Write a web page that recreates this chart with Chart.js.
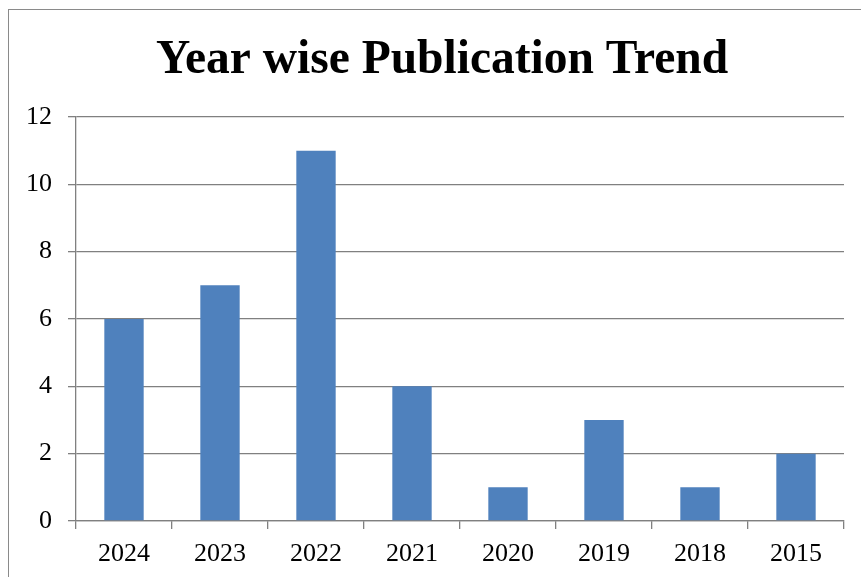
<!DOCTYPE html>
<html>
<head>
<meta charset="utf-8">
<script src="https://cdn.jsdelivr.net/npm/chart.js@4.4.1/dist/chart.umd.min.js"></script>
<style>
  html, body { margin: 0; padding: 0; background: #fff; }
  #wrap { position: relative; width: 861px; height: 577px; overflow: hidden; }
  #frame { position: absolute; left: 8px; top: 9px; width: 900px; height: 600px;
           border-left: 1.5px solid #8a8a8a; border-top: 1.5px solid #8a8a8a; }
  canvas { position: absolute; left: 0; top: 0; }
</style>
</head>
<body>
<div id="wrap">
  <div id="frame"></div>
  <canvas id="c" width="861" height="577"></canvas>
</div>
<script>
const chartTitle = "Year wise Publication Trend";
const years = ["2024", "2023", "2022", "2021", "2020", "2019", "2018", "2015"];
const publications = [6, 7, 11, 4, 1, 3, 1, 2];
const yTicks = [0, 2, 4, 6, 8, 10, 12];

const gridColor = "#808080";
const serif = "'Liberation Serif', 'Times New Roman', serif";

new Chart(document.getElementById("c"), {
  type: "bar",
  data: {
    labels: years,
    datasets: [{
      label: "Publications",
      data: publications,
      backgroundColor: "#4f81bd",
      borderWidth: 0,
      barPercentage: 0.41,
      categoryPercentage: 1.0
    }]
  },
  options: {
    responsive: false,
    animation: false,
    layout: { padding: { left: 40, right: 17, top: 0, bottom: 0 } },
    plugins: {
      legend: { display: false },
      tooltip: { enabled: false },
      title: {
        display: true,
        text: chartTitle,
        color: "#000",
        font: { family: serif, size: 47.5, weight: "bold", lineHeight: 1.2 },
        padding: { top: 32, bottom: 28 }
      }
    },
    scales: {
      x: {
        offset: true,
        grid: {
          display: true,
          offset: true,
          drawOnChartArea: false,
          drawTicks: true,
          tickLength: 8,
          color: gridColor,
          lineWidth: 1.3
        },
        border: { display: true, color: gridColor, width: 1.3 },
        ticks: {
          color: "#000",
          font: { family: serif, size: 26 },
          padding: 10,
          maxRotation: 0
        },
        afterFit: (s) => { s.height = 56; }
      },
      y: {
        min: 0,
        max: 12,
        afterBuildTicks: (s) => { s.ticks = yTicks.map(v => ({ value: v })); },
        grid: {
          color: gridColor,
          lineWidth: 1.3,
          drawTicks: true,
          tickLength: 8
        },
        border: { display: true, color: gridColor, width: 1.3 },
        ticks: {
          color: "#000",
          font: { family: serif, size: 26 },
          mirror: true,
          crossAlign: "far",
          padding: -50
        },
        afterFit: (s) => { s.width = 36; }
      }
    }
  }
});
</script>
</body>
</html>
